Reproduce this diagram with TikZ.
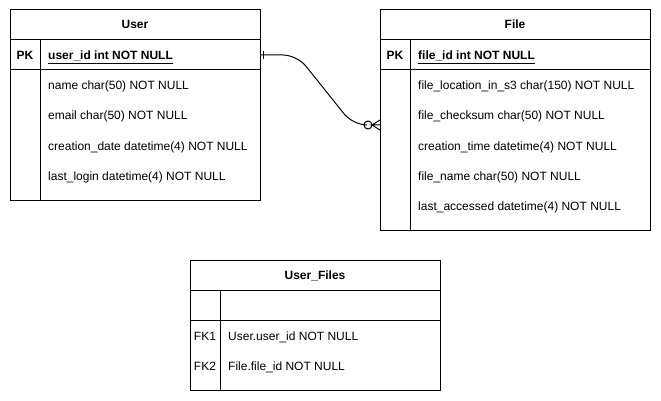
\documentclass[tikz,border=0pt]{standalone}
\usepackage{fontspec}
\setmainfont{Liberation Sans}
\usetikzlibrary{positioning}

\begin{document}
\begin{tikzpicture}[x=1pt,y=-1pt,
	tbl/.style={draw, line width=1pt, inner sep=0pt},
	rule/.style={line width=1pt},
	field/.style={anchor=base west, inner sep=0pt, font=\fontsize{12}{14}\selectfont},
	keyname/.style={anchor=base, inner sep=0pt, font=\fontsize{12}{14}\selectfont\bfseries}]
	\useasboundingbox (0,0) rectangle (661,401);
	% User table
	\node [tbl, minimum width=250, minimum height=190] (user) at (135,105) {};
	\node [keyname] (user title) at (135,29) {User};
	\draw [rule] (10,40) -- (260,40) (10,70) -- (260,70) (40,40) -- (40,200);
	\node [keyname] (user pk) at (25,60) {PK};
	\node [field, font=\fontsize{12}{14}\selectfont\bfseries] (user id) at (48,60) {\underline{user\_id int NOT NULL}};
	\foreach \name [count=\i] in {name char(50) NOT NULL, email char(50) NOT NULL, creation\_date datetime(4) NOT NULL, last\_login datetime(4) NOT NULL}
		\node [field] (user row\i) at (48,60+30*\i) {\name};
	% File table
	\node [tbl, minimum width=270, minimum height=220] (file) at (515,120) {};
	\node [keyname] (file title) at (515,29) {File};
	\draw [rule] (380,40) -- (650,40) (380,70) -- (650,70) (410,40) -- (410,230);
	\node [keyname] (file pk) at (395,60) {PK};
	\node [field, font=\fontsize{12}{14}\selectfont\bfseries] (file id) at (418,60) {\underline{file\_id int NOT NULL}};
	\foreach \name [count=\i] in {file\_location\_in\_s3 char(150) NOT NULL, file\_checksum char(50) NOT NULL, creation\_time datetime(4) NOT NULL, file\_name char(50) NOT NULL, last\_accessed datetime(4) NOT NULL}
		\node [field] (file row\i) at (418,60+30*\i) {\name};
	% User_Files table
	\node [tbl, minimum width=250, minimum height=130] (userfiles) at (315,325) {};
	\node [keyname] (userfiles title) at (315,279) {User\_Files};
	\draw [rule] (190,290) -- (440,290) (190,320) -- (440,320) (220,290) -- (220,390);
	\node [anchor=base, inner sep=0pt, font=\fontsize{12}{14}\selectfont] (fk1) at (205,340) {FK1};
	\node [anchor=base, inner sep=0pt, font=\fontsize{12}{14}\selectfont] (fk2) at (205,370) {FK2};
	\node [field] (userfiles row1) at (228,340) {User.user\_id NOT NULL};
	\node [field] (userfiles row2) at (228,370) {File.file\_id NOT NULL};
	% relation: one user to many files
	\coordinate (one end) at (260,55);
	\coordinate (many end) at (380,125);
	\draw [rule, rounded corners=14] (one end) -- (297,55) -- (353,125) -- (364,125);
	\draw [rule] (263,51) -- (263,59);
	\draw [rule] (368,125) circle (4);
	\draw [rule] (many end) ++(0,-5) -- (372,125) -- (many end) ++(0,5) -- (372,125) -- (many end);
\end{tikzpicture}
\end{document}
